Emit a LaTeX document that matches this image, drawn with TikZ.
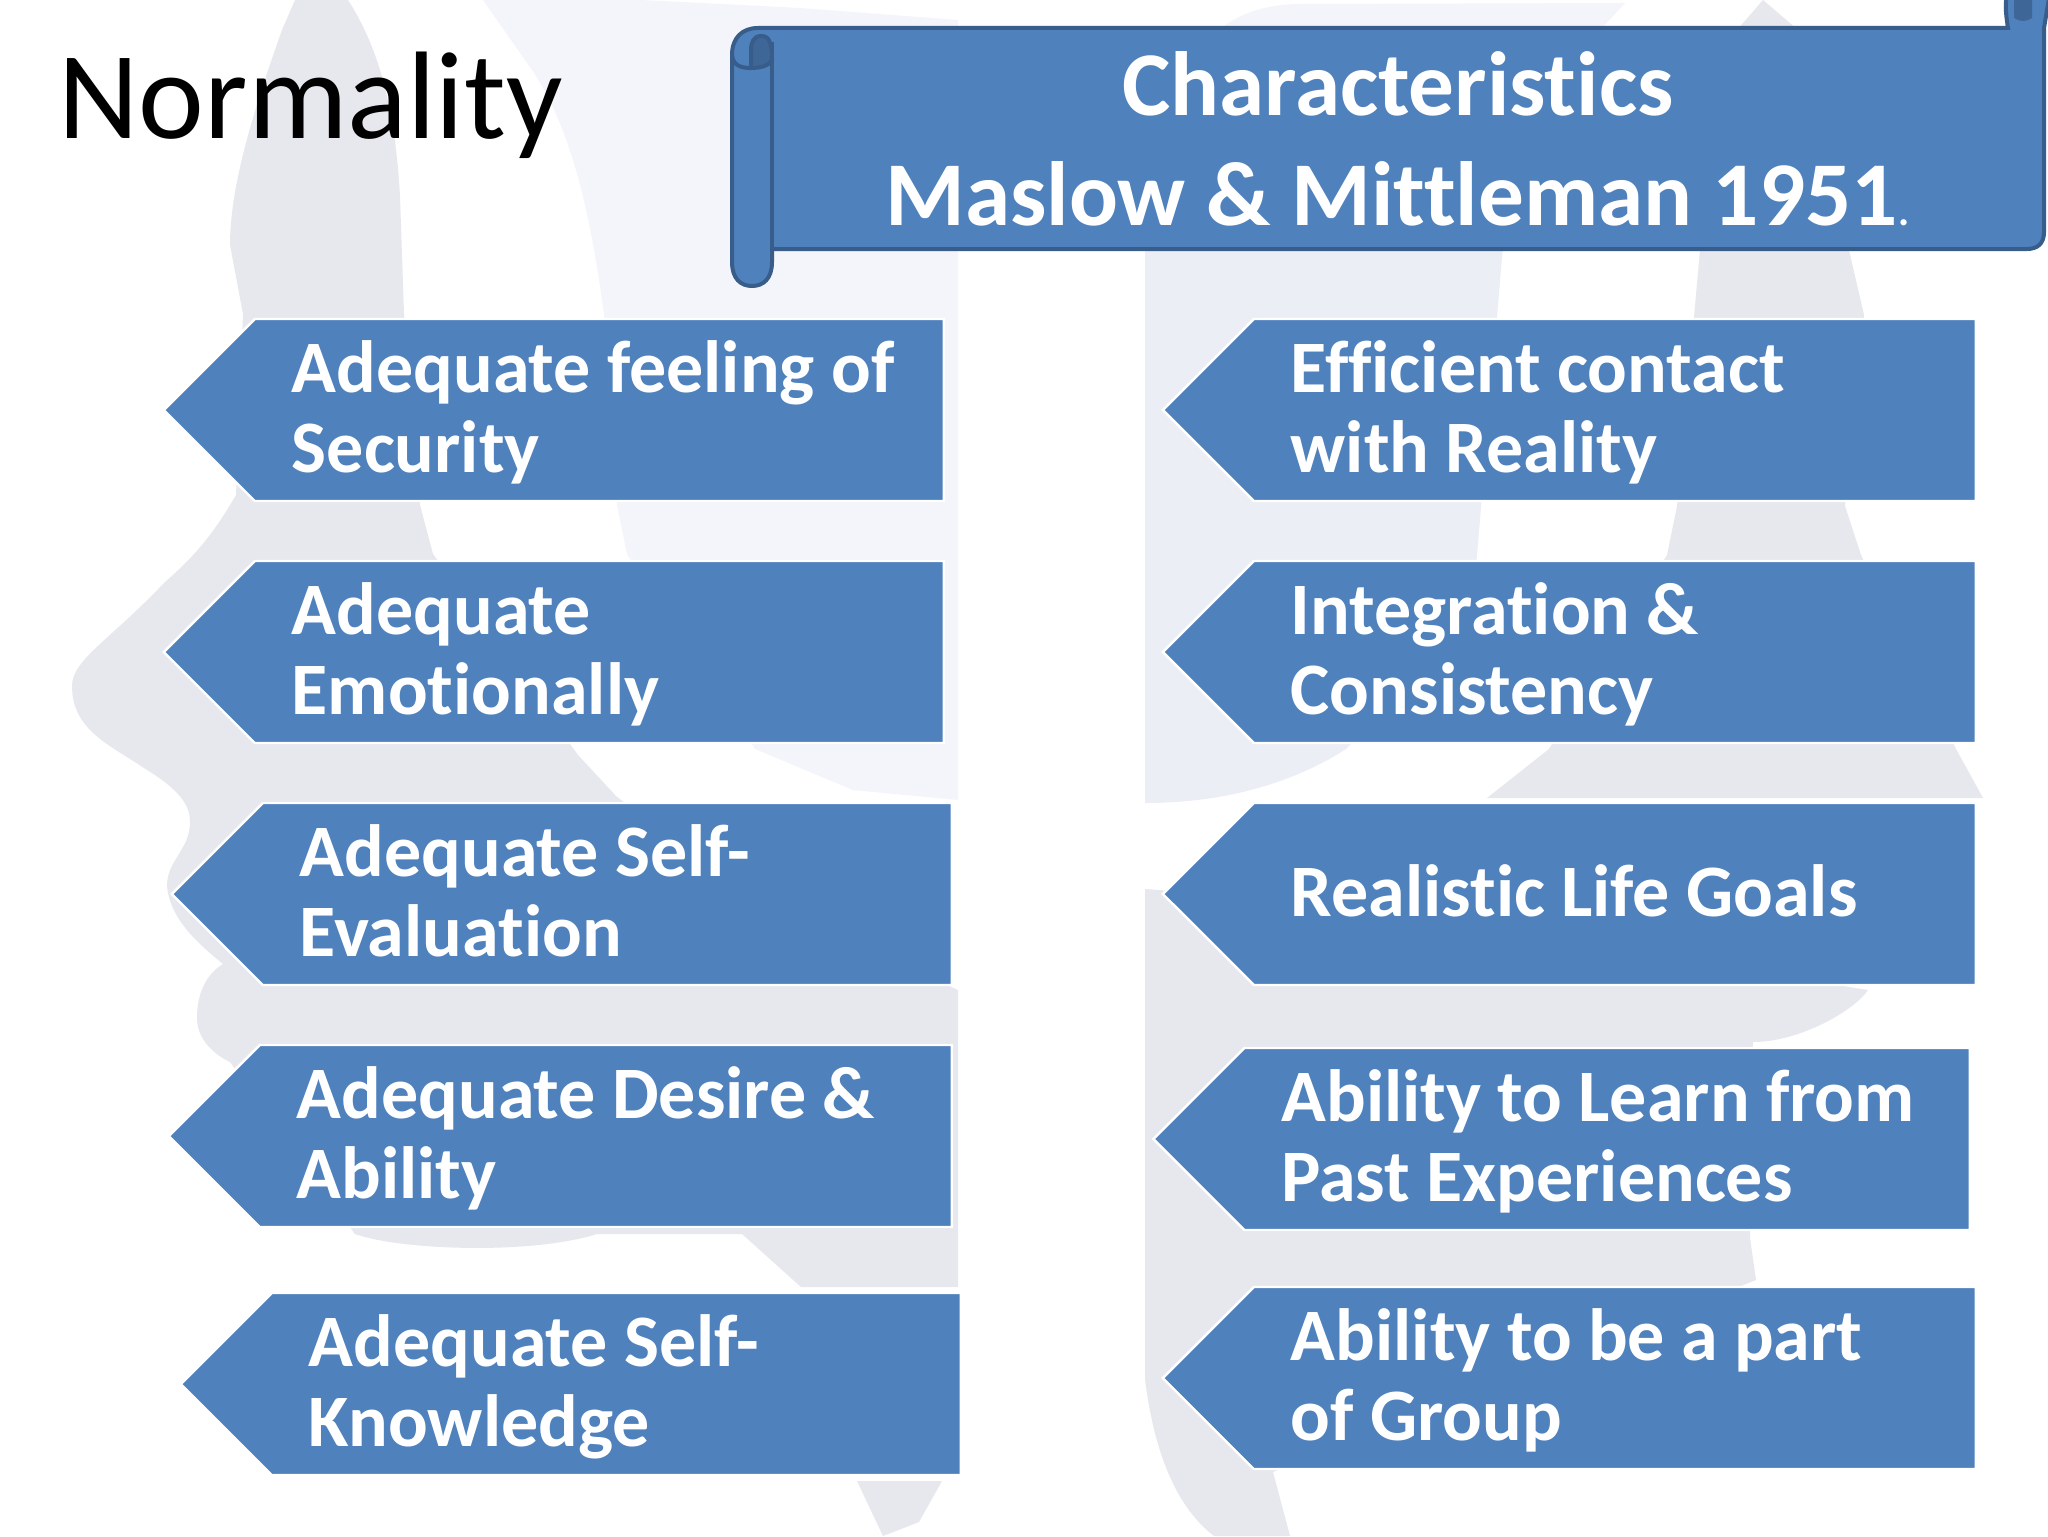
\documentclass[tikz,border=0pt]{standalone}
\usepackage{fontspec}
\setmainfont{Carlito}[Ligatures=NoCommon]
\usetikzlibrary{shapes.symbols}
\definecolor{boxblue}{RGB}{79,129,189}
\definecolor{scrollline}{RGB}{56,93,138}
\definecolor{curlblue}{RGB}{62,103,152}
\definecolor{markgray}{RGB}{230,232,238}
\definecolor{marklight}{RGB}{243,245,250}
\definecolor{markmid}{RGB}{236,238,245}
\tikzset{
	x=0.5pt,
	y=-0.5pt,
	arrowbox/.style={signal, signal to=west, signal pointer angle=90, fill=boxblue, draw=white,
		line width=1.2pt, text=white, anchor=east, align=left, inner ysep=0pt, inner xsep=18.5pt,
		minimum height=91pt, font=\fontsize{37}{40}\selectfont\bfseries,
		execute at begin node={\spaceskip=0.22em\relax\rule{0pt}{29pt}},
		execute at end node={\rule[-7pt]{0pt}{7pt}}},
	leftbox/.style={arrowbox, text width=307.5pt},
	rightbox/.style={arrowbox, text width=324pt},
	scroll/.style={fill=boxblue, draw=scrollline, line width=2pt},
}

\begin{document}
\begin{tikzpicture}
	\useasboundingbox (0,0) rectangle (2048,1536);
	\fill[white] (0,0) rectangle (2048,1536);

	% watermark behind everything
	\fill[marklight] (483,0) -- (525,60) .. controls (570,120) and (590,210) .. (604,314) -- (617,505)
		-- (627,554) -- (755,749) -- (853,790) -- (958,800) -- (958,20) -- (800,8) -- (640,0) -- cycle;
	\fill[marklight] (1219,30) .. controls (1240,12) and (1270,4) .. (1300,4) -- (1625,3) -- (1600,30) -- cycle;
	\fill[markgray] (295,0) -- (282,30) .. controls (250,120) and (230,190) .. (230,245) -- (243,314) -- (236,495)
		.. controls (210,540) and (190,560) .. (164,583) .. controls (110,640) and (72,660) .. (72,686)
		.. controls (72,730) and (110,745) .. (144,768) .. controls (180,790) and (190,805) .. (190,822)
		.. controls (190,850) and (167,860) .. (167,886) .. controls (170,920) and (200,945) .. (223,964)
		.. controls (205,975) and (197,995) .. (197,1018) .. controls (197,1040) and (215,1055) .. (230,1062)
		-- (355,1234) .. controls (400,1250) and (530,1255) .. (597,1234) -- (742,1234) -- (801,1287) -- (958,1287)
		-- (958,990) -- (760,900) -- (617,797) -- (578,755) -- (433,554) -- (420,505) -- (404,314)
		-- (400,196) .. controls (395,110) and (380,50) .. (348,0) -- cycle;
	\fill[markgray] (857,1481) -- (883,1536) -- (919,1522) -- (942,1481) -- cycle;
	\fill[markmid] (1145,245) -- (1503,245) -- (1477,555) -- (1470,620) -- (1346,749)
		.. controls (1290,785) and (1220,803) .. (1145,803) -- cycle;
	\fill[markgray] (1763,0) -- (1737,30) -- (1700,250) -- (1677,506) -- (1667,555) -- (1549,749) -- (1487,798)
		-- (1983,798) -- (1956,749) -- (1861,555) -- (1845,506) -- (1864,315) -- (1798,30) -- cycle;
	\fill[markgray] (1145,889) -- (1300,900) -- (1868,990) .. controls (1855,1010) and (1800,1042) .. (1753,1042)
		-- (1750,1238) -- (1756,1280) -- (1273,1472) -- (1290,1536) -- (1214,1536)
		.. controls (1180,1510) and (1155,1460) .. (1145,1379) -- cycle;

	% title
	\node[anchor=base west, inner sep=0pt, font=\fontsize{62.3}{62}\selectfont] (title) at (58,138) {Normality};

	% scroll banner
	\draw[scroll] (772,28) -- (2008,28) .. controls (2005,10) and (2005,0) .. (2008,-8) -- (2050,-8) -- (2044,28) -- (2044,232)
		.. controls (2044,244) and (2037,249) .. (2027,249) -- (772,249) -- (772,262)
		.. controls (772,279) and (763,286) .. (752,286) .. controls (741,286) and (732,279) .. (732,262)
		-- (732,55) .. controls (732,38) and (742,28) .. (758,28) -- cycle;
	\draw[scroll, fill=curlblue] (772,60) .. controls (772,40) and (768,36) .. (761,36)
		.. controls (754,36) and (751,42) .. (751,50) -- (751,68) .. controls (760,68) and (769,66) .. (772,60) -- cycle;
	\draw[scrollline, line width=2pt] (772,42) -- (772,249);
	\draw[scrollline, line width=2pt] (732,55) .. controls (733,65) and (740,68) .. (751,68);
	\fill[curlblue] (2014,0) -- (2014,18) .. controls (2020,22) and (2026,22) .. (2032,18) -- (2032,0) -- cycle;
	\node[text=white, align=center, inner sep=0pt, font=\fontsize{45.6}{55}\selectfont\bfseries] (banner) at (1398,139)
		{Characteristics\\Maslow \& Mittleman 1951{\fontsize{26}{26}\selectfont\mdseries.}};

	% left column
	\node[leftbox] (security) at (945,410) {Adequate feeling of\\Security};
	\node[leftbox] (emotion) at (945,652) {Adequate\\Emotionally};
	\node[leftbox] (evaluation) at (953,894) {Adequate Self-\\Evaluation};
	\node[leftbox, text width=309pt] (desire) at (953,1136) {Adequate Desire \&\\Ability};
	\node[leftbox] (knowledge) at (962,1384) {Adequate Self-\\Knowledge};

	% right column
	\node[rightbox] (reality) at (1977,410) {Efficient contact\\with Reality};
	\node[rightbox] (integration) at (1977,652) {Integration \&\\Consistency};
	\node[rightbox] (goals) at (1977,894) {Realistic Life Goals};
	\node[rightbox, text width=325.7pt] (learn) at (1971,1139) {Ability to Learn from\\Past Experiences};
	\node[rightbox] (group) at (1977,1378) {Ability to be a part\\of Group};
\end{tikzpicture}
\end{document}
